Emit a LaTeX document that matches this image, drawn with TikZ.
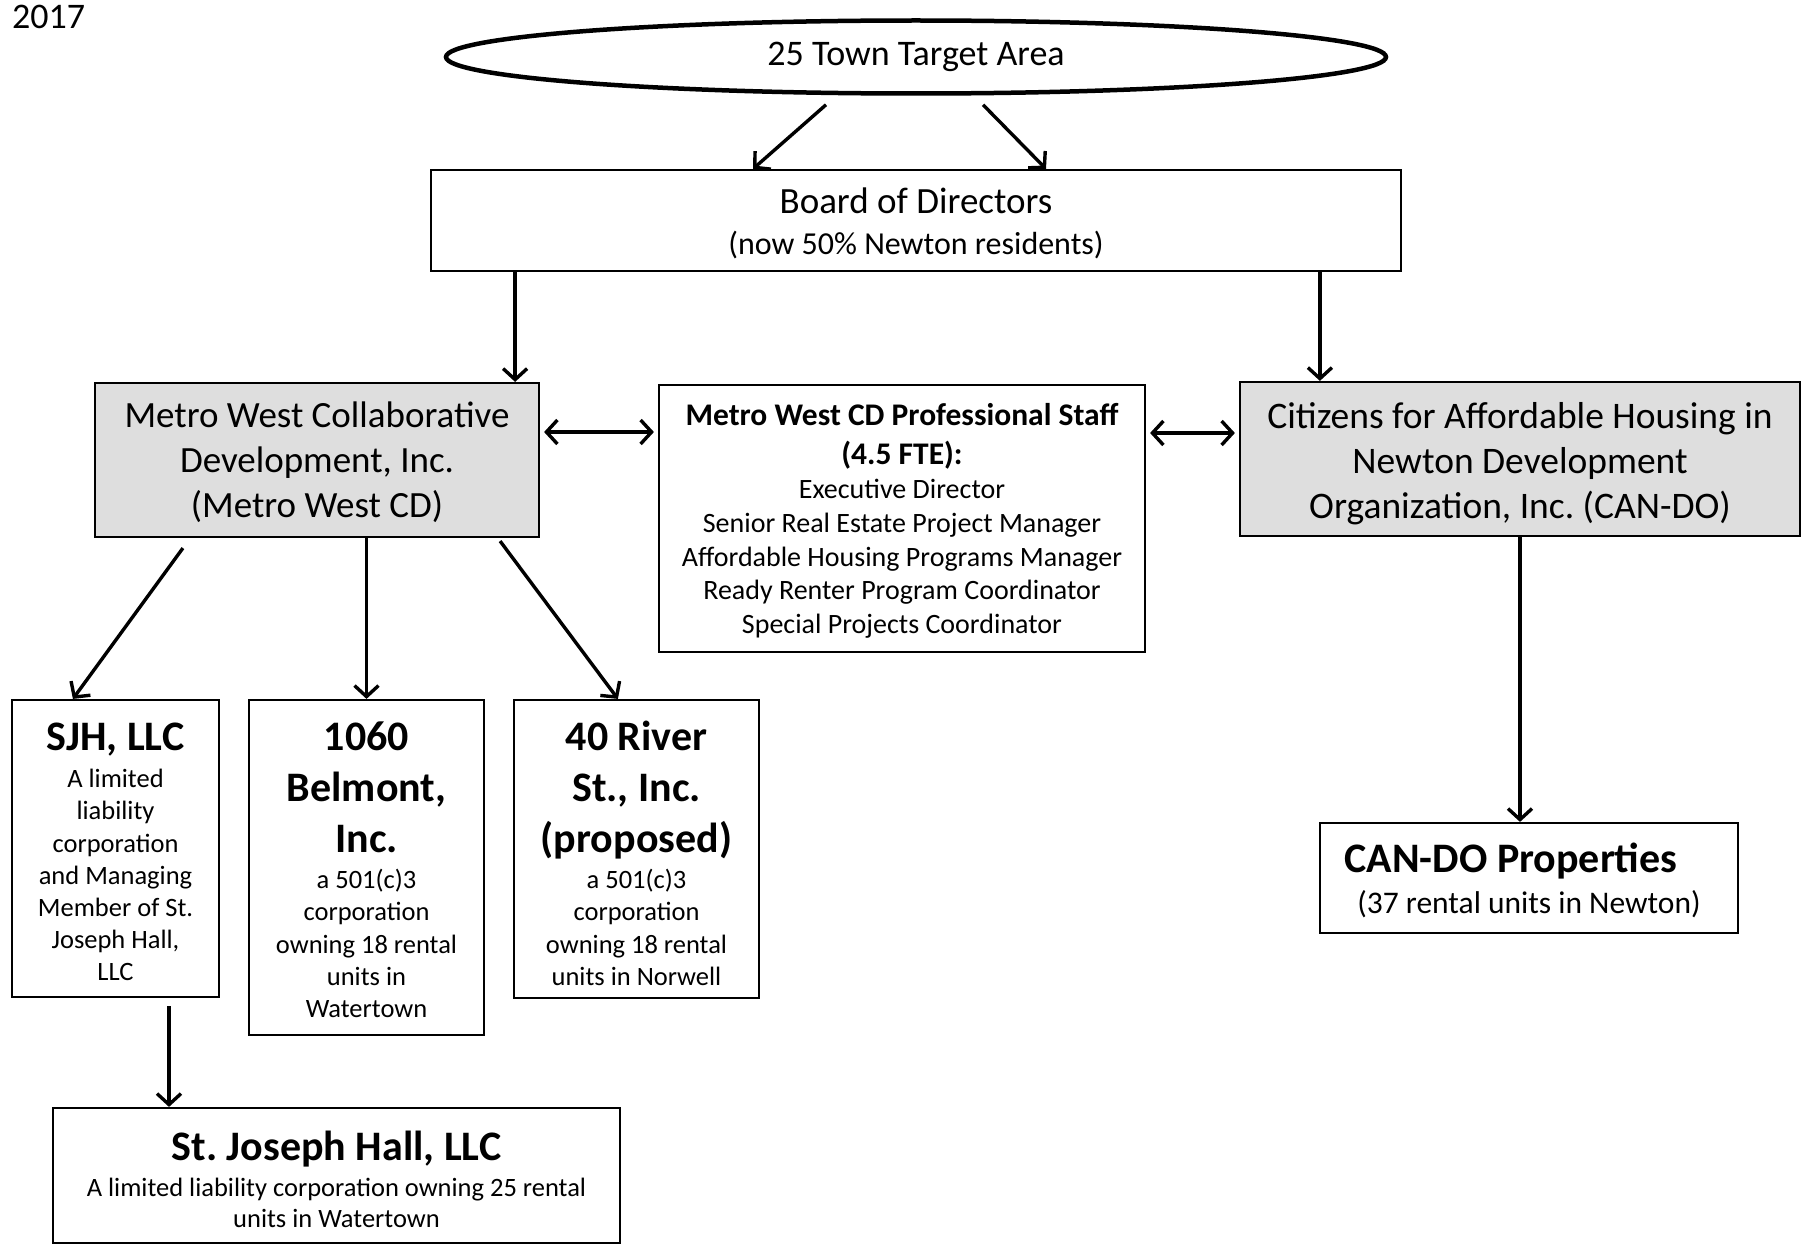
\documentclass[tikz,border=0pt]{standalone}
\usepackage{fontspec}
\setmainfont{Carlito}
\usetikzlibrary{shapes.geometric,arrows.meta,calc}
\newcommand{\myfs}[2]{\fontsize{#1pt}{#2pt}\selectfont\spaceskip=0pt\xspaceskip=0pt\relax}
% raises the first line's top by #1pt (text moves down by half of it in a centred box)
\newcommand{\lift}[2]{\raisebox{#1pt}{\vphantom{#2}}}
\frenchspacing
\begin{document}
\begin{tikzpicture}[x=1pt,y=-1pt,
  box/.style={draw, line width=2.2pt, inner sep=0pt, align=flush center},
  shaded/.style={box, fill=black!13},
  tipa/.tip={Straight Barb[length=11pt,width=24pt,line width=3.4pt]},
  arr/.style={line width=3.4pt, -tipa},
  darr/.style={line width=3.4pt, tipa-tipa},
]
\useasboundingbox (0,0) rectangle (1803,1244);

\node[anchor=base west, font=\myfs{36}{42}, inner sep=0pt] (year) at (12,29) {2017};

\node[ellipse, draw, line width=4.5pt, minimum width=940pt, minimum height=73pt, inner sep=0pt, font=\myfs{36}{44}] (area) at (916,57) {25 Town Target Area};

\node[box, text width=970pt, minimum height=101pt] (board) at (916,220.5)
  {\frenchspacing\myfs{37}{44}\lift{5}{Board of Directors}Board of Directors\par\myfs{32}{41}(now 50\% Newton residents)\par};

\node[shaded, text width=444pt, minimum height=154pt] (mwcd) at (317,460)
  {\frenchspacing\myfs{37}{45}\lift{4}{Metro West Collaborative}Metro West Collaborative\\Development, Inc.\\(Metro West CD)\par};

\node[box, text width=486pt, minimum height=267pt] (staff) at (902,518.5)
  {\frenchspacing{\bfseries\myfs{31.5}{39}\lift{5}{Metro West CD Professional Staff}Metro West CD Professional Staff\\(4.5 FTE):\par}
   \myfs{28}{33.7}Executive Director\\Senior Real Estate Project Manager\\Affordable Housing Programs Manager\\Ready Renter Program Coordinator\\Special Projects Coordinator\par};

\node[shaded, text width=560pt, minimum height=154pt] (cando) at (1520,459)
  {\frenchspacing\myfs{37.5}{45}\lift{9}{Citizens for Affordable Housing in}Citizens for Affordable Housing in\\Newton Development\\Organization, Inc. (CAN-DO)\par};

\node[box, text width=207pt, minimum height=297pt] (sjh) at (115.5,848.5)
  {\frenchspacing{\bfseries\myfs{42}{50}\lift{7}{SJH, LLC}SJH, LLC\par}\vspace{5pt}
   \myfs{26.5}{32.2}A limited\\liability\\corporation\\and Managing\\Member of St.\\Joseph Hall,\\LLC\par};

\node[box, text width=235pt, minimum height=335pt] (b1060) at (366.5,867.5)
  {\frenchspacing{\bfseries\myfs{42}{51}\lift{5}{1060}1060\\Belmont,\\Inc.\par}\vspace{3.5pt}
   \myfs{26.5}{32.2}a 501(c)3\\corporation\\owning 18 rental\\units in\\Watertown\par};

\node[box, text width=245pt, minimum height=298pt] (river) at (636.5,849)
  {\frenchspacing{\bfseries\myfs{42}{51}\lift{9}{40 River}40 River\\St., Inc.\\(proposed)\par}\vspace{3.5pt}
   \myfs{26.5}{32.2}a 501(c)3\\corporation\\owning 18 rental\\units in Norwell\par};

\node[box, text width=567pt, minimum height=135pt] (stj) at (336.5,1175.5)
  {\frenchspacing{\bfseries\myfs{42}{50}\lift{8}{St. Joseph Hall, LLC}St. Joseph Hall, LLC\par}\vspace{5pt}
   \myfs{26.5}{31}A limited liability corporation owning 25 rental\\units in Watertown\par};

\node[box, text width=418pt, minimum height=110pt] (props) at (1529,878)
  {\frenchspacing{\bfseries\myfs{42}{50}\hspace*{-36pt}\lift{4}{CAN-DO Properties}CAN-DO Properties\par}\vspace{1pt}
   \myfs{31.5}{40}(37 rental units in Newton)\par};

% connectors
\draw[arr] ([xshift=-90pt,yshift=-9pt]area.south) -- ([xshift=-163pt]board.north);
\draw[arr] ([xshift=67pt,yshift=-9pt]area.south) -- ([xshift=130pt]board.north);

\coordinate (m1) at ([xshift=-25pt]mwcd.north east);
\coordinate (c1) at ([xshift=81pt]cando.north west);
\draw[arr] (board.south -| m1) -- (m1);
\draw[arr] (board.south -| c1) -- (c1);

\draw[darr] ([xshift=4pt,yshift=28pt]mwcd.east) -- ([xshift=-4pt,yshift=28pt]mwcd.east -| staff.west);
\draw[darr] ([xshift=4pt,yshift=85.5pt]staff.east) -- ([xshift=-4pt,yshift=85.5pt]staff.east -| cando.west);

\draw[arr] ([xshift=89pt,yshift=-10pt]mwcd.south west) -- ([xshift=62pt]sjh.north west);
\draw[arr] (b1060.north |- mwcd.south) -- (b1060.north);
\draw[arr] ([xshift=-40pt,yshift=-3pt]mwcd.south east) -- ([xshift=105pt]river.north west);

\coordinate (s1) at ([xshift=53.5pt,yshift=-8pt]sjh.south);
\draw[arr] (s1) -- (s1 |- stj.north);
\draw[arr] (cando.south) -- (cando.south |- props.north);
\end{tikzpicture}
\end{document}
